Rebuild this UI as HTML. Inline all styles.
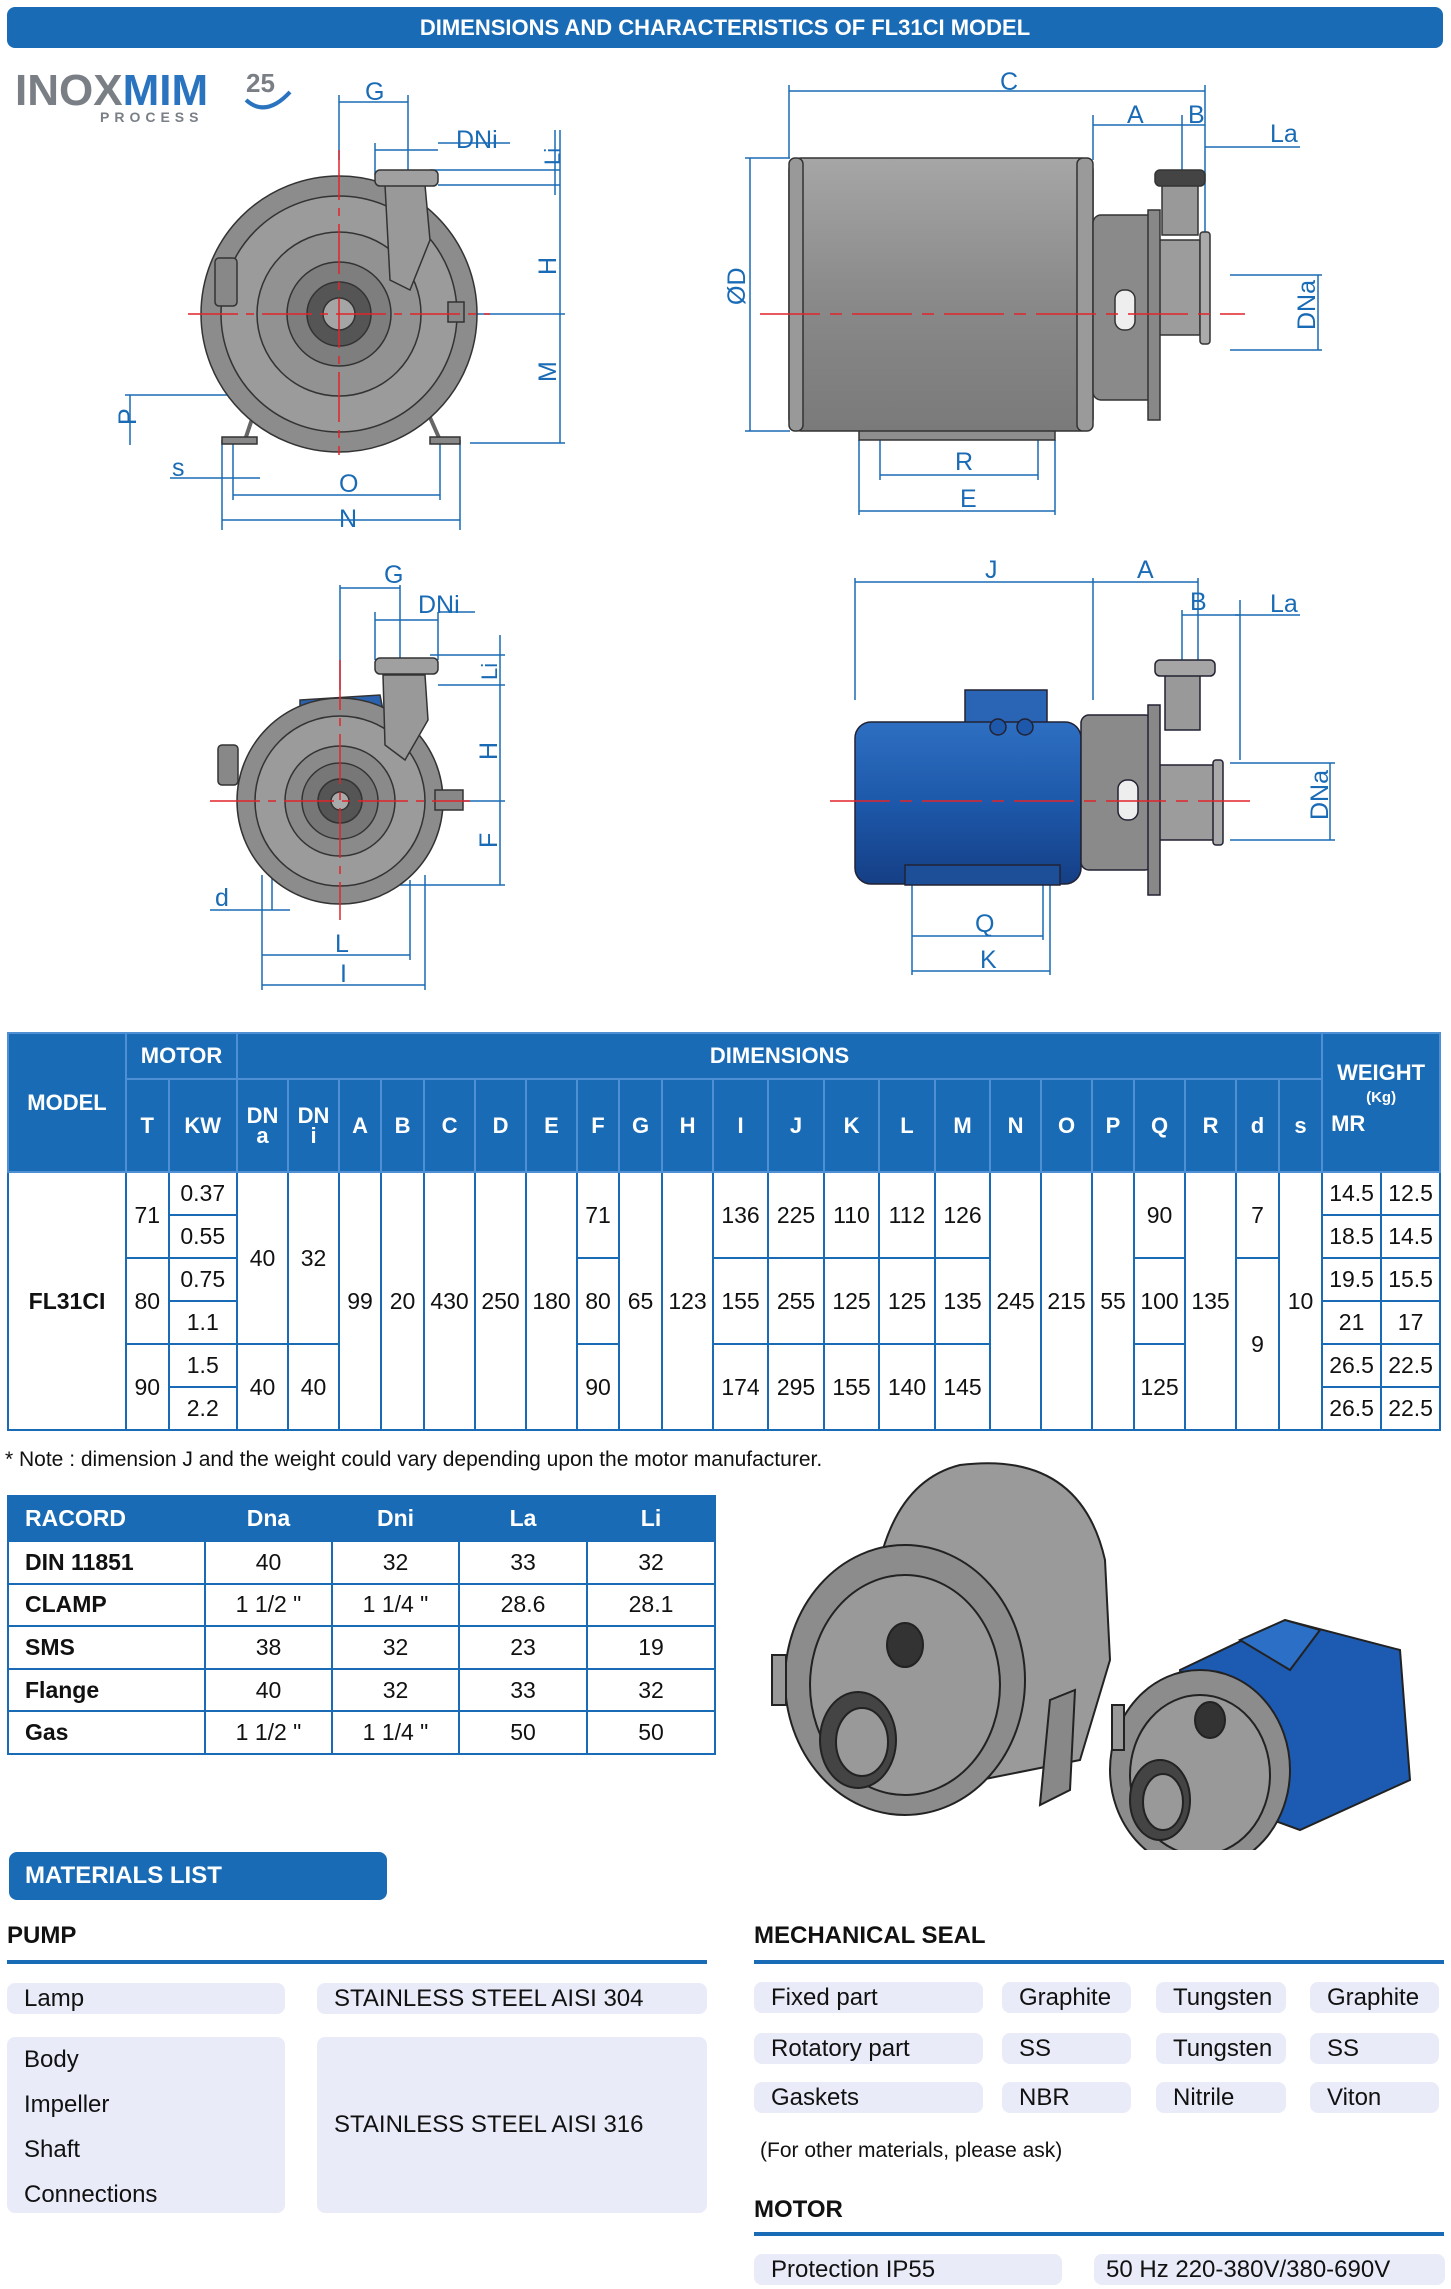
<!DOCTYPE html>
<html><head><meta charset="utf-8">
<style>
*{margin:0;padding:0;box-sizing:border-box}
body{width:1451px;height:2289px;background:#fff;position:relative;overflow:hidden;font-family:"Liberation Sans Narrow","Liberation Sans",sans-serif;color:#111}
.a{position:absolute}
.bar{left:7px;top:7px;width:1436px;height:41px;background:#1a6bb5;border-radius:8px;color:#fff;font-weight:bold;font-size:22px;text-align:center;line-height:41px}
table{border-collapse:collapse;table-layout:fixed}
#dt{left:7px;top:1032px;width:1432px}
#dt td,#dt th{border:2px solid #1a6bb5;text-align:center;vertical-align:middle;font-size:23px;padding:0;overflow:hidden;white-space:nowrap}
#dt th{background:#1a6bb5;color:#fff;border-color:#4f8fd3;font-weight:bold;font-size:22px}
#dt tr.h1{height:46px}#dt tr.h2{height:93px}#dt tr.d{height:43px}
#rt{left:7px;top:1495px;width:707px}
#rt td,#rt th{border:2px solid #1a6bb5;font-size:23px;text-align:center;height:42.6px;padding:0}
#rt th{background:#1a6bb5;color:#fff;font-weight:bold;height:45px}
#rt td:first-child,#rt th:first-child{text-align:left;padding-left:16px;font-weight:bold}
.bx{position:absolute;background:#e9ecf8;border-radius:8px;font-size:24px;padding-left:17px;line-height:31px;height:31px}
.ln{position:absolute;height:4px;background:#1a6bb5}
.hd{position:absolute;font-weight:bold;font-size:24px}
</style></head><body>
<div class="a bar">DIMENSIONS AND CHARACTERISTICS OF FL31CI MODEL</div>

<svg class="a" style="left:0;top:0" width="1451" height="1000" viewBox="0 0 1451 1000">
<defs>
<linearGradient id="cy" x1="0" y1="0" x2="0" y2="1"><stop offset="0" stop-color="#a6a6a6"/><stop offset=".5" stop-color="#8a8a8a"/><stop offset="1" stop-color="#7a7a7a"/></linearGradient>
<linearGradient id="bl" x1="0" y1="0" x2="0" y2="1"><stop offset="0" stop-color="#2e6fc2"/><stop offset=".5" stop-color="#1d58aa"/><stop offset="1" stop-color="#153f85"/></linearGradient>
</defs>
<!-- logo -->
<text x="15" y="105" font-family="Liberation Sans" font-weight="bold" font-size="44" fill="#7a7f86">INOX<tspan fill="#2a73bf">MIM</tspan></text>
<text x="100" y="122" font-family="Liberation Sans" font-weight="bold" font-size="14" letter-spacing="5" fill="#7a7f86">PROCESS</text>
<text x="246" y="92" font-family="Liberation Sans" font-weight="bold" font-size="26" fill="#7a7f86">25</text>
<path d="M246 100 q20 18 44 -8" stroke="#2a73bf" stroke-width="4" fill="none"/>

<g stroke="#1a6bb5" stroke-width="1.5" fill="none">
<!-- TL dims -->
<line x1="339" y1="95" x2="339" y2="160"/><line x1="408" y1="95" x2="408" y2="170"/><line x1="339" y1="102" x2="408" y2="102"/>
<line x1="375" y1="150" x2="438" y2="150"/><line x1="375" y1="143" x2="375" y2="175"/><line x1="438" y1="143" x2="510" y2="143"/>
<line x1="430" y1="170" x2="560" y2="170"/><line x1="438" y1="185" x2="560" y2="185"/><line x1="555" y1="130" x2="555" y2="195"/>
<line x1="560" y1="130" x2="560" y2="443"/><line x1="460" y1="314" x2="565" y2="314"/><line x1="470" y1="443" x2="565" y2="443"/>
<line x1="130" y1="395" x2="130" y2="445"/><line x1="125" y1="395" x2="240" y2="395"/>
<line x1="222" y1="440" x2="222" y2="530"/><line x1="233" y1="440" x2="233" y2="500"/><line x1="440" y1="440" x2="440" y2="500"/><line x1="460" y1="440" x2="460" y2="530"/>
<line x1="170" y1="478" x2="260" y2="478"/><line x1="233" y1="495" x2="440" y2="495"/><line x1="222" y1="520" x2="460" y2="520"/>
<!-- TR dims -->
<line x1="789" y1="85" x2="789" y2="158"/><line x1="1205" y1="85" x2="1205" y2="240"/><line x1="789" y1="91" x2="1205" y2="91"/>
<line x1="1093" y1="115" x2="1093" y2="160"/><line x1="1182" y1="115" x2="1182" y2="180"/><line x1="1093" y1="125" x2="1205" y2="125"/>
<line x1="1205" y1="147" x2="1300" y2="147"/>
<line x1="745" y1="158" x2="790" y2="158"/><line x1="745" y1="431" x2="790" y2="431"/><line x1="750" y1="158" x2="750" y2="431"/>
<line x1="1230" y1="275" x2="1322" y2="275"/><line x1="1230" y1="350" x2="1322" y2="350"/><line x1="1318" y1="275" x2="1318" y2="350"/>
<line x1="880" y1="440" x2="880" y2="480"/><line x1="1038" y1="440" x2="1038" y2="480"/><line x1="880" y1="475" x2="1038" y2="475"/>
<line x1="859" y1="440" x2="859" y2="515"/><line x1="1055" y1="440" x2="1055" y2="515"/><line x1="859" y1="511" x2="1055" y2="511"/>
<!-- BL dims -->
<line x1="340" y1="585" x2="340" y2="690"/><line x1="400" y1="585" x2="400" y2="660"/><line x1="340" y1="588" x2="400" y2="588"/>
<line x1="375" y1="620" x2="438" y2="620"/><line x1="375" y1="612" x2="375" y2="660"/><line x1="438" y1="612" x2="438" y2="660"/><line x1="438" y1="612" x2="475" y2="612"/>
<line x1="430" y1="655" x2="505" y2="655"/><line x1="438" y1="685" x2="505" y2="685"/><line x1="500" y1="635" x2="500" y2="885"/>
<line x1="440" y1="801" x2="505" y2="801"/><line x1="400" y1="885" x2="505" y2="885"/>
<line x1="262" y1="875" x2="262" y2="990"/><line x1="425" y1="875" x2="425" y2="990"/><line x1="272" y1="875" x2="272" y2="910"/>
<line x1="210" y1="910" x2="290" y2="910"/><line x1="262" y1="955" x2="410" y2="955"/><line x1="262" y1="985" x2="425" y2="985"/><line x1="410" y1="880" x2="410" y2="960"/>
<!-- BR dims -->
<line x1="855" y1="578" x2="855" y2="700"/><line x1="1093" y1="578" x2="1093" y2="700"/><line x1="855" y1="582" x2="1093" y2="582"/>
<line x1="1093" y1="582" x2="1198" y2="582"/><line x1="1198" y1="578" x2="1198" y2="660"/><line x1="1182" y1="610" x2="1182" y2="660"/>
<line x1="1182" y1="615" x2="1240" y2="615"/><line x1="1235" y1="615" x2="1300" y2="615"/><line x1="1240" y1="600" x2="1240" y2="760"/>
<line x1="1230" y1="763" x2="1335" y2="763"/><line x1="1230" y1="840" x2="1335" y2="840"/><line x1="1330" y1="763" x2="1330" y2="840"/>
<line x1="912" y1="880" x2="912" y2="975"/><line x1="1043" y1="880" x2="1043" y2="940"/><line x1="1050" y1="880" x2="1050" y2="975"/>
<line x1="912" y1="936" x2="1043" y2="936"/><line x1="912" y1="971" x2="1050" y2="971"/>
</g>

<!-- TL pump -->
<g stroke="#333" stroke-width="1.5">
<path d="M260 395 L245 440 M420 395 L440 440" fill="none" stroke-width="4" stroke="#666"/>
<rect x="222" y="437" width="35" height="7" fill="#888"/><rect x="430" y="437" width="30" height="7" fill="#888"/>
<circle cx="339" cy="314" r="138" fill="#8c8c8c"/>
<circle cx="339" cy="314" r="118" fill="#9b9b9b"/>
<circle cx="339" cy="314" r="82" fill="#929292"/>
<circle cx="339" cy="314" r="52" fill="#7e7e7e"/>
<circle cx="339" cy="314" r="32" fill="#555"/>
<circle cx="339" cy="314" r="16" fill="#a5a5a5"/>
<path d="M385 185 L425 185 L430 240 L410 290 L390 280 Z" fill="#999"/>
<rect x="375" y="170" width="63" height="16" rx="5" fill="#a0a0a0"/>
<rect x="215" y="258" width="22" height="48" rx="4" fill="#888"/>
<rect x="448" y="302" width="16" height="20" fill="#888"/>
</g>
<g stroke="#e0242a" stroke-width="1.5" stroke-dasharray="50 8 8 8"><line x1="188" y1="314" x2="490" y2="314"/><line x1="339" y1="150" x2="339" y2="455"/></g>

<!-- TR pump -->
<g stroke="#333" stroke-width="1.5">
<rect x="859" y="400" width="196" height="40" fill="#8e8e8e"/>
<rect x="789" y="158" width="304" height="273" rx="12" fill="url(#cy)"/>
<rect x="789" y="158" width="14" height="273" rx="6" fill="#999"/>
<rect x="1077" y="158" width="16" height="273" rx="6" fill="#9a9a9a"/>
<rect x="1093" y="215" width="62" height="185" rx="8" fill="#8a8a8a"/>
<rect x="1150" y="240" width="50" height="95" fill="#9c9c9c"/>
<rect x="1200" y="232" width="10" height="112" rx="3" fill="#aaa"/>
<rect x="1162" y="180" width="36" height="55" fill="#999"/>
<rect x="1155" y="170" width="50" height="16" rx="5" fill="#444"/>
<rect x="1115" y="290" width="20" height="40" rx="9" fill="#eee"/>
<rect x="1148" y="210" width="12" height="210" fill="#888"/>
</g>
<line x1="760" y1="314" x2="1245" y2="314" stroke="#e0242a" stroke-width="1.5" stroke-dasharray="60 10 12 10"/>

<!-- BL pump -->
<g stroke="#333" stroke-width="1.5">
<path d="M300 700 L380 695 L385 720 L300 730Z" fill="#2b62b0"/>
<circle cx="340" cy="801" r="103" fill="#8c8c8c"/>
<circle cx="340" cy="801" r="85" fill="#9b9b9b"/>
<circle cx="340" cy="801" r="55" fill="#8a8a8a"/>
<circle cx="340" cy="801" r="38" fill="#777"/>
<circle cx="340" cy="801" r="22" fill="#555"/>
<circle cx="340" cy="801" r="9" fill="#aaa"/>
<path d="M383 675 L425 675 L428 720 L405 760 L385 745Z" fill="#999"/>
<rect x="375" y="658" width="63" height="16" rx="5" fill="#a0a0a0"/>
<rect x="218" y="745" width="20" height="40" rx="4" fill="#888"/>
<rect x="435" y="790" width="28" height="20" fill="#888"/>
</g>
<g stroke="#e0242a" stroke-width="1.5" stroke-dasharray="50 8 8 8"><line x1="210" y1="801" x2="470" y2="801"/><line x1="340" y1="660" x2="340" y2="920"/></g>

<!-- BR pump -->
<g stroke="#223" stroke-width="1.5">
<rect x="965" y="690" width="82" height="50" fill="#2a64b4"/>
<rect x="855" y="722" width="226" height="162" rx="16" fill="url(#bl)"/>
<rect x="905" y="865" width="155" height="20" fill="#1d4f99"/>
<circle cx="998" cy="727" r="8" fill="#1d58aa"/><circle cx="1025" cy="727" r="8" fill="#1d58aa"/>
<rect x="1081" y="715" width="72" height="155" rx="8" fill="#8a8a8a"/>
<rect x="1150" y="765" width="65" height="75" fill="#9c9c9c"/>
<rect x="1213" y="760" width="10" height="85" rx="3" fill="#aaa"/>
<rect x="1165" y="675" width="35" height="55" fill="#999"/>
<rect x="1155" y="660" width="60" height="16" rx="5" fill="#a5a5a5"/>
<rect x="1118" y="780" width="20" height="40" rx="9" fill="#eee"/>
<rect x="1148" y="705" width="12" height="190" fill="#888"/>
</g>
<line x1="830" y1="801" x2="1250" y2="801" stroke="#e0242a" stroke-width="1.5" stroke-dasharray="60 10 12 10"/>

<g fill="#1a6bb5" font-size="25" font-family="Liberation Sans">
<text x="365" y="100">G</text><text x="456" y="148">DNi</text>
<text x="560" y="165" transform="rotate(-90 560 165)" font-size="22">Li</text>
<text x="556" y="275" transform="rotate(-90 556 275)">H</text><text x="556" y="382" transform="rotate(-90 556 382)">M</text>
<text x="136" y="425" transform="rotate(-90 136 425)">P</text>
<text x="172" y="476">s</text><text x="339" y="492">O</text><text x="339" y="527">N</text>
<text x="1000" y="90">C</text><text x="1127" y="123">A</text><text x="1188" y="123">B</text><text x="1270" y="142">La</text>
<text x="745" y="305" transform="rotate(-90 745 305)">ØD</text><text x="1315" y="330" transform="rotate(-90 1315 330)">DNa</text>
<text x="955" y="470">R</text><text x="960" y="507">E</text>
<text x="384" y="583">G</text><text x="418" y="613">DNi</text>
<text x="497" y="680" transform="rotate(-90 497 680)" font-size="22">Li</text>
<text x="497" y="760" transform="rotate(-90 497 760)">H</text><text x="497" y="848" transform="rotate(-90 497 848)">F</text>
<text x="215" y="906">d</text><text x="335" y="952">L</text><text x="340" y="982">I</text>
<text x="985" y="578">J</text><text x="1137" y="578">A</text><text x="1190" y="610">B</text><text x="1270" y="612">La</text>
<text x="1328" y="820" transform="rotate(-90 1328 820)">DNa</text>
<text x="975" y="932">Q</text><text x="980" y="968">K</text>
</g>
</svg>

<table id="dt" class="a">
<colgroup><col style="width:118px"><col style="width:42.5px"><col style="width:68.5px"><col style="width:51px"><col style="width:51px"><col style="width:42px"><col style="width:43px"><col style="width:51px"><col style="width:51px"><col style="width:51px"><col style="width:42px"><col style="width:43px"><col style="width:51px"><col style="width:55px"><col style="width:56px"><col style="width:55px"><col style="width:56px"><col style="width:55px"><col style="width:51px"><col style="width:51px"><col style="width:42px"><col style="width:51px"><col style="width:51px"><col style="width:43px"><col style="width:43px"><col style="width:59px"><col style="width:59px"></colgroup>
<tr class="h1"><th rowspan="2">MODEL</th><th colspan="2">MOTOR</th><th colspan="22">DIMENSIONS</th><th colspan="2" rowspan="2" style="vertical-align:top;padding-top:28px;line-height:22px">WEIGHT<br><span style="font-size:15px">(Kg)</span><br><span style="display:block;text-align:left;padding-left:8px;margin-top:4px">MR</span></th></tr>
<tr class="h2"><th>T</th><th>KW</th><th style="line-height:20px">DN<br>a</th><th style="line-height:20px">DN<br>i</th><th>A</th><th>B</th><th>C</th><th>D</th><th>E</th><th>F</th><th>G</th><th>H</th><th>I</th><th>J</th><th>K</th><th>L</th><th>M</th><th>N</th><th>O</th><th>P</th><th>Q</th><th>R</th><th>d</th><th>s</th></tr>
<tr class="d"><td rowspan="6" style="font-weight:bold">FL31CI</td><td rowspan="2">71</td><td>0.37</td><td rowspan="4">40</td><td rowspan="4">32</td><td rowspan="6">99</td><td rowspan="6">20</td><td rowspan="6">430</td><td rowspan="6">250</td><td rowspan="6">180</td><td rowspan="2">71</td><td rowspan="6">65</td><td rowspan="6">123</td><td rowspan="2">136</td><td rowspan="2">225</td><td rowspan="2">110</td><td rowspan="2">112</td><td rowspan="2">126</td><td rowspan="6">245</td><td rowspan="6">215</td><td rowspan="6">55</td><td rowspan="2">90</td><td rowspan="6">135</td><td rowspan="2">7</td><td rowspan="6">10</td><td>14.5</td><td>12.5</td></tr>
<tr class="d"><td>0.55</td><td>18.5</td><td>14.5</td></tr>
<tr class="d"><td rowspan="2">80</td><td>0.75</td><td rowspan="2">80</td><td rowspan="2">155</td><td rowspan="2">255</td><td rowspan="2">125</td><td rowspan="2">125</td><td rowspan="2">135</td><td rowspan="2">100</td><td rowspan="4">9</td><td>19.5</td><td>15.5</td></tr>
<tr class="d"><td>1.1</td><td>21</td><td>17</td></tr>
<tr class="d"><td rowspan="2">90</td><td>1.5</td><td rowspan="2">40</td><td rowspan="2">40</td><td rowspan="2">90</td><td rowspan="2">174</td><td rowspan="2">295</td><td rowspan="2">155</td><td rowspan="2">140</td><td rowspan="2">145</td><td rowspan="2">125</td><td>26.5</td><td>22.5</td></tr>
<tr class="d"><td>2.2</td><td>26.5</td><td>22.5</td></tr>
</table>

<div class="a" style="left:5px;top:1448px;font-size:21px">* Note : dimension J and the weight could vary depending upon the motor manufacturer.</div>

<table id="rt" class="a">
<colgroup><col style="width:197px"><col style="width:127px"><col style="width:127px"><col style="width:128px"><col style="width:128px"></colgroup>
<tr><th>RACORD</th><th>Dna</th><th>Dni</th><th>La</th><th>Li</th></tr>
<tr><td>DIN 11851</td><td>40</td><td>32</td><td>33</td><td>32</td></tr>
<tr><td>CLAMP</td><td>1 1/2 "</td><td>1 1/4 "</td><td>28.6</td><td>28.1</td></tr>
<tr><td>SMS</td><td>38</td><td>32</td><td>23</td><td>19</td></tr>
<tr><td>Flange</td><td>40</td><td>32</td><td>33</td><td>32</td></tr>
<tr><td>Gas</td><td>1 1/2 "</td><td>1 1/4 "</td><td>50</td><td>50</td></tr>
</table>

<svg class="a" style="left:740px;top:1450px" width="711" height="400" viewBox="740 1450 711 400">
<g stroke="#222" stroke-width="2">
<path d="M960 1465 Q1080 1450 1105 1560 L1110 1660 L1080 1760 L980 1780 L870 1700 L880 1560 Q900 1480 960 1465Z" fill="#9a9a9a"/>
<path d="M1050 1700 L1075 1690 L1070 1790 L1040 1805Z" fill="#888"/>
<ellipse cx="905" cy="1680" rx="120" ry="135" fill="#8c8c8c"/>
<ellipse cx="905" cy="1685" rx="95" ry="110" fill="#999"/>
<ellipse cx="858" cy="1740" rx="38" ry="48" fill="#444"/>
<ellipse cx="862" cy="1742" rx="26" ry="34" fill="#999"/>
<ellipse cx="905" cy="1645" rx="18" ry="22" fill="#333"/>
<rect x="772" y="1655" width="14" height="50" fill="#999"/>
<path d="M1180 1670 L1285 1620 L1400 1650 L1410 1780 L1300 1830 L1190 1790Z" fill="#1d5bb3"/>
<path d="M1240 1640 L1285 1620 L1320 1630 L1290 1670Z" fill="#2b6fc7"/>
<ellipse cx="1200" cy="1770" rx="90" ry="100" fill="#8c8c8c"/>
<ellipse cx="1200" cy="1775" rx="70" ry="80" fill="#999"/>
<ellipse cx="1160" cy="1800" rx="30" ry="40" fill="#444"/>
<ellipse cx="1163" cy="1802" rx="20" ry="28" fill="#999"/>
<ellipse cx="1210" cy="1720" rx="15" ry="18" fill="#333"/>
<rect x="1112" y="1705" width="12" height="45" fill="#999"/>
</g>
</svg>

<div class="a" style="left:9px;top:1852px;width:378px;height:48px;background:#1a6bb5;border-radius:8px;color:#fff;font-weight:bold;font-size:24px;line-height:48px;padding-left:16px">MATERIALS LIST</div>

<div class="hd" style="left:7px;top:1922px">PUMP</div>
<div class="ln" style="left:7px;top:1960px;width:700px"></div>
<div class="hd" style="left:754px;top:1922px">MECHANICAL SEAL</div>
<div class="ln" style="left:754px;top:1960px;width:690px"></div>

<div class="bx" style="left:7px;top:1983px;width:278px">Lamp</div>
<div class="bx" style="left:317px;top:1983px;width:390px">STAINLESS STEEL AISI 304</div>
<div class="bx" style="left:7px;top:2037px;width:278px;height:176px;line-height:45px;padding-top:0">Body<br>Impeller<br>Shaft<br>Connections</div>
<div class="bx" style="left:317px;top:2037px;width:390px;height:176px;line-height:176px">STAINLESS STEEL AISI 316</div>

<div class="bx" style="left:754px;top:1982px;width:229px">Fixed part</div>
<div class="bx" style="left:1002px;top:1982px;width:129px">Graphite</div>
<div class="bx" style="left:1156px;top:1982px;width:130px">Tungsten</div>
<div class="bx" style="left:1310px;top:1982px;width:129px">Graphite</div>
<div class="bx" style="left:754px;top:2033px;width:229px">Rotatory part</div>
<div class="bx" style="left:1002px;top:2033px;width:129px">SS</div>
<div class="bx" style="left:1156px;top:2033px;width:130px">Tungsten</div>
<div class="bx" style="left:1310px;top:2033px;width:129px">SS</div>
<div class="bx" style="left:754px;top:2082px;width:229px">Gaskets</div>
<div class="bx" style="left:1002px;top:2082px;width:129px">NBR</div>
<div class="bx" style="left:1156px;top:2082px;width:130px">Nitrile</div>
<div class="bx" style="left:1310px;top:2082px;width:129px">Viton</div>

<div class="a" style="left:760px;top:2139px;font-size:21px">(For other materials, please ask)</div>
<div class="hd" style="left:754px;top:2196px">MOTOR</div>
<div class="ln" style="left:754px;top:2232px;width:690px"></div>
<div class="bx" style="left:754px;top:2254px;width:308px">Protection IP55</div>
<div class="bx" style="left:1094px;top:2254px;width:351px;padding-left:12px">50 Hz 220-380V/380-690V</div>
</body></html>
